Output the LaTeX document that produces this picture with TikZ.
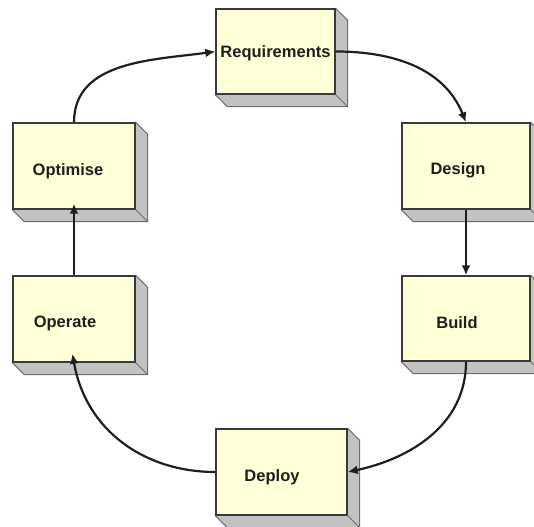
\documentclass[tikz,border=0pt]{standalone}
\usepackage{fontspec}
\setmainfont{Liberation Sans}
\usepackage{tikz}
\usetikzlibrary{arrows.meta,calc,backgrounds}
\definecolor{cyface}{HTML}{FFFFD8}
\definecolor{cyside}{HTML}{C2C2C2}
\definecolor{cyedge}{HTML}{3A3A3A}
\definecolor{cyedgepale}{HTML}{6E6E6E}
\definecolor{cyink}{HTML}{1E1E1E}

\begin{document}
\begin{tikzpicture}[x=1pt,y=1pt,
  face/.style={draw=cyedge,fill=cyface,line width=1.4pt,inner sep=0pt},
  lbl/.style={font=\bfseries\fontsize{16.5}{19}\selectfont,text=cyink,inner sep=0pt},
  side/.style={fill=cyside,draw=cyedgepale,line width=1pt,line join=round},
  conn/.style={cyink,line width=2.2pt,-{Latex[length=10pt,width=9pt]}}]
  \useasboundingbox (0,0) rectangle (534,526);
  % boxes: name / x / y / width / height / text shift / label
  \foreach \n/\x/\y/\w/\h/\dx/\dy/\lab in {req/275.5/474.5/119/85/0/-1.5/Requirements,
      des/466/360/128/86/-8/-4/Design, bld/466/207.5/128/85/-9/-4.5/Build,
      dep/281.5/54/131/86/-9.5/-5/Deploy, opr/74/207/122/86/-9/-4/Operate,
      opt/74/360/122/86/-6/-5/Optimise} {
    \node[face,minimum width=\w,minimum height=\h] (\n) at (\x,\y) {};
    \begin{scope}[on background layer]
      \filldraw[side] (\n.north east) -- ($(\n.north east)+(12,-12)$) -- ($(\n.south east)+(12,-12)$)
        -- ($(\n.south west)+(12,-12)$) -- (\n.south west) -- cycle;
      \draw[side] (\n.south east) -- ++(12,-12);
    \end{scope}
    \node[lbl] (\n-lab) at ($(\n)+(\dx,\dy)$) {\lab};
  }
  % the cycle
  \draw[conn] (req.east) to[out=0,in=112] (des.north);
  \draw[conn] (des.south) -- (bld.north);
  \draw[conn] (bld.south) to[out=-90,in=12] (dep.east);
  \draw[conn,shorten >=-9pt] (dep.west) to[out=180,in=-80] (opr.south);
  \draw[conn,shorten >=-6pt] (opr.north) -- (opt.south);
  \draw[conn] (opt.north) to[out=90,in=188] (req.west);
\end{tikzpicture}
\end{document}
